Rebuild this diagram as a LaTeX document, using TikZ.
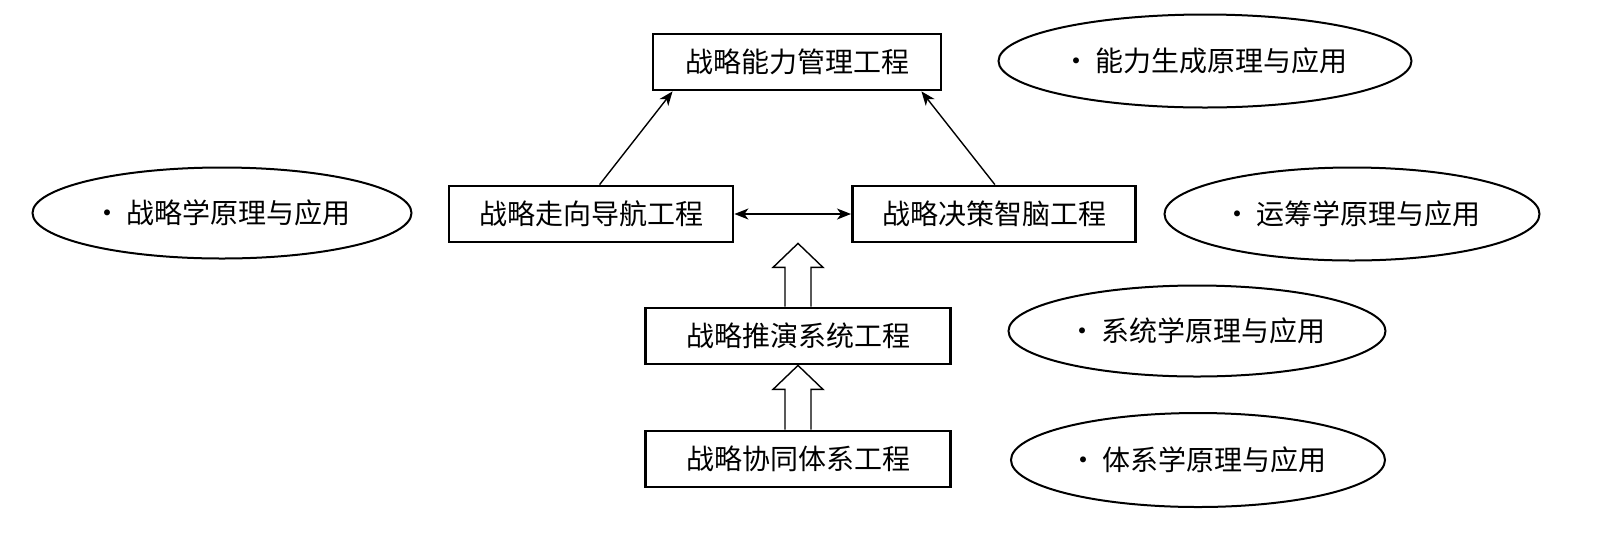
\documentclass[tikz,border=0pt]{standalone}
\usepackage{fontspec}
\setmainfont{Noto Sans CJK SC}
\usetikzlibrary{shapes.geometric,arrows.meta,calc}

\begin{document}
\begin{tikzpicture}[x=0.5pt, y=-0.5pt,
  >={Stealth[length=7pt,width=5.5pt,inset=2pt]},
  every node/.style={font=\fontsize{14pt}{16pt}\selectfont, inner sep=0pt},
  box/.style={draw, rectangle, line width=1.4pt, minimum height=28pt},
  theory/.style={draw, ellipse, line width=1pt},
  link/.style={line width=0.7pt},
  hollow/.style={line width=0.7pt, fill=white, line join=miter}]

\useasboundingbox (0,0) rectangle (1611,537);

% Engineering boxes
\node[box, minimum width=144pt] (nengli) at (797,62) {战略能力管理工程};
\node[box, minimum width=142pt] (zouxiang) at (591,214) {战略走向导航工程};
\node[box, minimum width=141.6pt] (juece) at (994,214) {战略决策智脑工程};
\node[box, minimum width=152.6pt] (tuiyan) at (798,336) {战略推演系统工程};
\node[box, minimum width=152.6pt] (xietong) at (798,459) {战略协同体系工程};

% Theory ellipses
\node[theory, minimum width=189.5pt, minimum height=45.5pt] (zhanluexue) at (222,213) {·\,战略学原理与应用};
\node[theory, minimum width=206.5pt, minimum height=46.5pt] (shengcheng) at (1205,61) {·\,能力生成原理与应用};
\node[theory, minimum width=187.5pt, minimum height=46.5pt] (yunchou) at (1352,214) {·\,运筹学原理与应用};
\node[theory, minimum width=188.5pt, minimum height=45.5pt] (xitongxue) at (1197,331) {·\,系统学原理与应用};
\node[theory, minimum width=187pt, minimum height=47pt] (tixixue) at (1198,460) {·\,体系学原理与应用};

% Thin arrows
\draw[link, ->] ($(zouxiang.north west)!0.53!(zouxiang.north east)$) -- ($(nengli.south west)!0.072!(nengli.south east)$);
\draw[link, ->] ($(juece.north west)!0.503!(juece.north east)$) -- ($(nengli.south west)!0.928!(nengli.south east)$);
\draw[link, <->] (zouxiang) -- (juece);

% Hollow arrows
\coordinate (gap) at (tuiyan.north |- zouxiang.south);
\draw[hollow] ($(tuiyan.north)+(-13,0)$) -- ($(gap)+(-13,24)$) -- ($(gap)+(-25,24)$) -- (gap)
  -- ($(gap)+(25,24)$) -- ($(gap)+(13,24)$) -- ($(tuiyan.north)+(13,0)$);
\draw[hollow] ($(xietong.north)+(-13,0)$) -- ($(tuiyan.south)+(-13,24)$) -- ($(tuiyan.south)+(-25,24)$) -- (tuiyan.south)
  -- ($(tuiyan.south)+(25,24)$) -- ($(tuiyan.south)+(13,24)$) -- ($(xietong.north)+(13,0)$);

\end{tikzpicture}
\end{document}
